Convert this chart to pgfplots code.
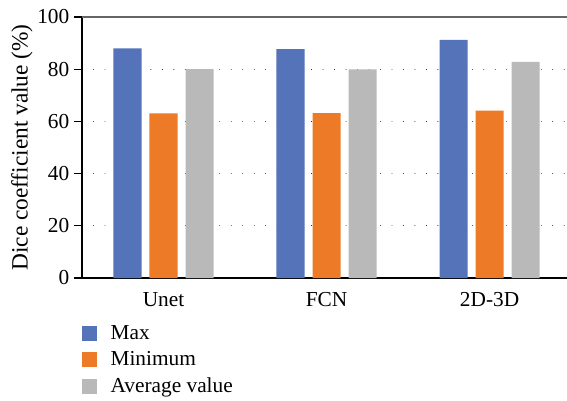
\documentclass[border=0pt]{standalone}
\usepackage{pgfplots}
\pgfplotsset{compat=1.18}
\usepackage{fontspec}
\setmainfont{Liberation Serif}
\definecolor{cmax}{HTML}{5473B9}
\definecolor{cmin}{HTML}{EC7A26}
\definecolor{cavg}{HTML}{B9B9B9}
\begin{document}
\begin{tikzpicture}
\useasboundingbox (0,0) rectangle (425.25pt,300pt);
\begin{axis}[
  at={(61.5pt,91.5pt)}, anchor=south west,
  scale only axis, width=363.75pt, height=195.75pt,
  xmin=-0.5, xmax=2.475, ymin=0, ymax=100,
  axis lines=left, axis line style={-, line width=0.8pt},
  xtick={0,1,2}, xticklabels={Unet,FCN,2D-3D}, x tick style={draw=none},
  ytick={0,20,40,60,80,100},
  y tick style={black, line width=0.8pt}, tick align=outside, major tick length=6pt,
  ymajorgrids, grid style={black, line width=0.6pt, dash pattern=on 0.01pt off 8.6pt, line cap=round},
  /pgf/number format/assume math mode=true,
  tick label style={font=\fontsize{16}{18}\selectfont},
  ylabel={Dice coefficient value (\%)},
  label style={font=\fontsize{17.5}{19}\selectfont},
  ylabel style={at={(axis description cs:-0.124,0.5)}, anchor=center},
  xticklabel style={yshift=-1pt},
  ybar, bar width=0.172,
  legend style={at={(0,-0.176)}, anchor=north west, draw=none, fill=none,
    font=\fontsize{16}{18}\selectfont, row sep=5.6pt, inner sep=0pt,
    nodes={inner sep=1pt}},
  legend cell align=left,
  legend image code/.code={\fill[#1] (0pt,-5.6pt) rectangle (11.25pt,5.6pt);},
  /tikz/every odd column/.append style={column sep=9pt},
]
\addplot[fill=cmax, draw=none, bar shift=-0.221] coordinates {(0,88.0) (1,87.7) (2,91.2)};
\addplot[fill=cmin, draw=none, bar shift=0] coordinates {(0,63.1) (1,63.2) (2,64.1)};
\addplot[fill=cavg, draw=none, bar shift=0.221] coordinates {(0,80.0) (1,79.9) (2,82.8)};
\legend{Max, Minimum, Average value}
\draw[gray!80!black, line width=1pt] (rel axis cs:0,1) -- (rel axis cs:1,1);
\end{axis}
\end{tikzpicture}
\end{document}
